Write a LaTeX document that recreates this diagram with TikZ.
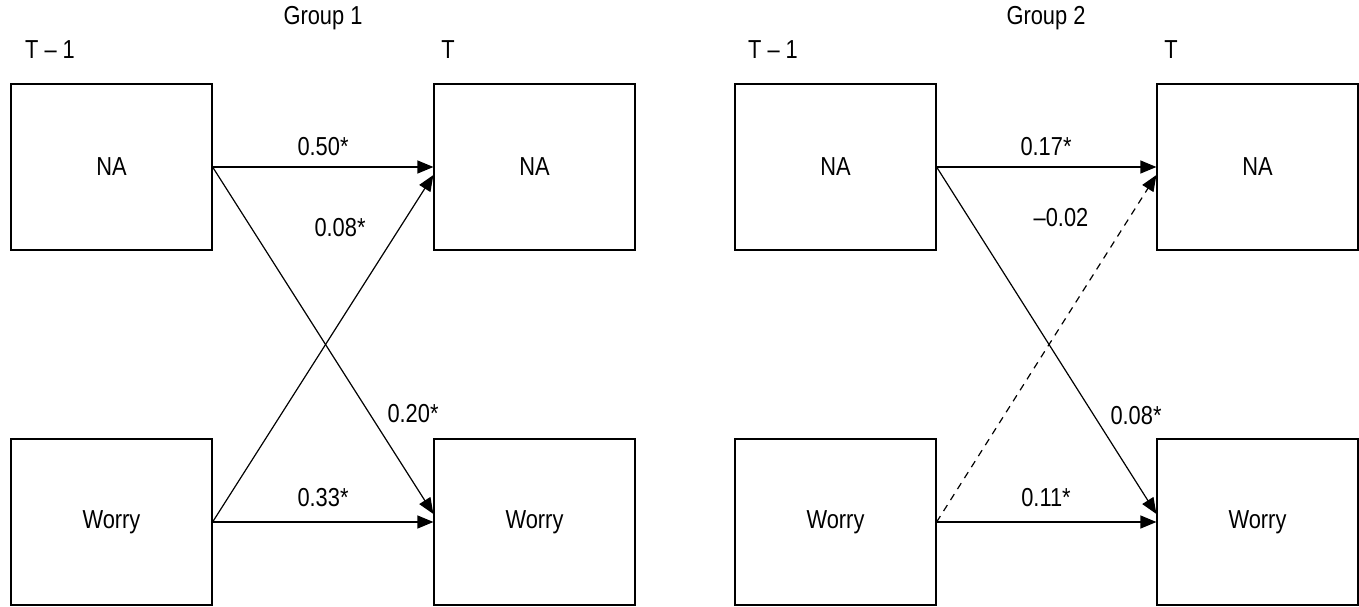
\documentclass[tikz,border=0pt]{standalone}
\usepackage{fontspec}
\setmainfont{Liberation Sans}[FakeStretch=0.84]
\usetikzlibrary{arrows.meta}
\begin{document}
\begin{tikzpicture}[x=1pt,y=-1pt,
  box/.style={draw,line width=1.2pt,minimum width=201pt,minimum height=166pt,inner sep=0pt,font=\fontsize{26}{30}\selectfont},
  lbl/.style={inner sep=0pt,font=\fontsize{26}{30}\selectfont},
  arr/.style={line width=1.2pt,-{Triangle[length=16pt,width=13pt]}},
  dsh/.style={arr,dash pattern=on 7pt off 6pt}]
\useasboundingbox (0,0) rectangle (1359,607);
% Group 1
\node[lbl] (g1) at (323,18) {Group 1};
\node[lbl] (t1a) at (50,50) {T -- 1};
\node[lbl] (t1b) at (448,50) {T};
\node[box] (na1) at (111.5,167) {NA};
\node[box] (nb1) at (534.5,167) {NA};
\node[box] (wa1) at (111.5,522) {Worry};
\node[box] (wb1) at (534.5,522) {Worry};
\draw[arr] (na1.east) -- (nb1.west);
\draw[arr] (wa1.east) -- (wb1.west);
\draw[arr] (na1.east) -- ([yshift=8pt]wb1.west);
\draw[arr] (wa1.east) -- ([yshift=-8pt]nb1.west);
\node[lbl] (l1a) at (323,147) {0.50*};
\node[lbl] (l1b) at (340,228) {0.08*};
\node[lbl] (l1c) at (413,414) {0.20*};
\node[lbl] (l1d) at (323,498) {0.33*};
% Group 2
\node[lbl] (g2) at (1046,18) {Group 2};
\node[lbl] (t2a) at (773,50) {T -- 1};
\node[lbl] (t2b) at (1171,50) {T};
\node[box] (na2) at (835.5,167) {NA};
\node[box] (nb2) at (1257.5,167) {NA};
\node[box] (wa2) at (835.5,522) {Worry};
\node[box] (wb2) at (1257.5,522) {Worry};
\draw[arr] (na2.east) -- (nb2.west);
\draw[arr] (wa2.east) -- (wb2.west);
\draw[arr] (na2.east) -- ([yshift=8pt]wb2.west);
\draw[dsh] (wa2.east) -- ([yshift=-8pt]nb2.west);
\node[lbl] (l2a) at (1046,147) {0.17*};
\node[lbl] (l2b) at (1061,218) {--0.02};
\node[lbl] (l2c) at (1136,416) {0.08*};
\node[lbl] (l2d) at (1046,498) {0.11*};
\end{tikzpicture}
\end{document}
